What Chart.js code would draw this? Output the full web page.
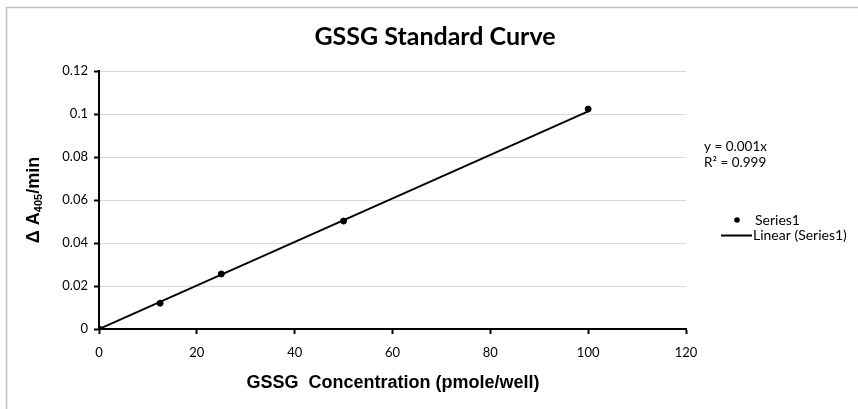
<!DOCTYPE html>
<html>
<head>
<meta charset="utf-8">
<script src="https://cdn.jsdelivr.net/npm/chart.js@4/dist/chart.umd.min.js"></script>
<style>
html,body{margin:0;padding:0;background:#fff;}
#c{display:block;}
</style>
</head>
<body>
<canvas id="c" width="858" height="409"></canvas>
<script>
// ---- data ----
const concentration = [0, 12.5, 25, 50, 100];
const deltaA = [0, 0.0120, 0.0256, 0.0502, 0.1023];
const trendX = [0, 100];
const trendY = [0, 0.1012];
const xTickLabels = ['0', '20', '40', '60', '80', '100', '120'];
const yTickLabels = ['0', '0.02', '0.04', '0.06', '0.08', '0.1', '0.12'];
const chartTitle = 'GSSG Standard Curve';
const xTitle = 'GSSG  Concentration (pmole/well)';
const yTitleMain = '\u0394 A';
const yTitleSub = '405';
const yTitleTail = '/min';
const equationText = ['y = 0.001x', 'R\u00b2 = 0.999'];
const seriesName = 'Series1';
const trendName = 'Linear (Series1)';

const tickFont = {family: 'Lato, "Open Sans", sans-serif', size: 13};

const decorPlugin = {
  id: 'decor',
  beforeDraw(chart) {
    const ctx = chart.ctx;
    ctx.save();
    ctx.fillStyle = '#fff';
    ctx.fillRect(0, 0, chart.width, chart.height);
    ctx.strokeStyle = '#c0c0c0';
    ctx.lineWidth = 1.5;
    ctx.beginPath();
    ctx.moveTo(6.5, chart.height);
    ctx.lineTo(6.5, 7.5);
    ctx.lineTo(chart.width, 7.5);
    ctx.stroke();
    ctx.restore();
  },
  afterDraw(chart) {
    const ctx = chart.ctx;
    const area = chart.chartArea;
    ctx.save();
    ctx.fillStyle = '#000';
    // title
    ctx.font = 'bold 25px Lato, "Open Sans", sans-serif';
    ctx.textAlign = 'center';
    ctx.textBaseline = 'middle';
    ctx.fillText(chartTitle, 435, 37);
    // x title
    ctx.font = 'bold 18px "Liberation Sans", Arial, sans-serif';
    ctx.fillText(xTitle, 393, 383);
    // y title rotated with subscript
    ctx.save();
    ctx.translate(32, 200);
    ctx.rotate(-Math.PI / 2);
    const fMain = 'bold 18px "Liberation Sans", Arial, sans-serif';
    const fSub = 'bold 11px "Liberation Sans", Arial, sans-serif';
    ctx.font = fMain; const w1 = ctx.measureText(yTitleMain).width;
    const w3 = ctx.measureText(yTitleTail).width;
    ctx.font = fSub; const w2 = ctx.measureText(yTitleSub).width;
    let x0 = -(w1 + w2 + w3) / 2;
    ctx.textAlign = 'left';
    ctx.textBaseline = 'alphabetic';
    ctx.font = fMain; ctx.fillText(yTitleMain, x0, 7);
    ctx.font = fSub; ctx.fillText(yTitleSub, x0 + w1, 10);
    ctx.font = fMain; ctx.fillText(yTitleTail, x0 + w1 + w2, 7);
    ctx.restore();
    // equation
    ctx.font = '13.5px Lato, "Open Sans", sans-serif';
    ctx.textAlign = 'left';
    ctx.textBaseline = 'middle';
    ctx.fillText(equationText[0], 704, 147);
    ctx.fillText(equationText[1], 704, 163);
    // legend
    ctx.beginPath();
    ctx.arc(737, 220, 2.8, 0, Math.PI * 2);
    ctx.fill();
    ctx.font = '14px Lato, "Open Sans", sans-serif';
    ctx.fillText(seriesName, 755, 220);
    ctx.strokeStyle = '#000';
    ctx.lineWidth = 2;
    ctx.beginPath();
    ctx.moveTo(721, 235.5);
    ctx.lineTo(752, 235.5);
    ctx.stroke();
    ctx.fillText(trendName, 753, 235);
    ctx.restore();
  }
};

new Chart(document.getElementById('c'), {
  type: 'scatter',
  data: {
    datasets: [
      {
        label: seriesName,
        data: concentration.map((x, i) => ({x: x, y: deltaA[i]})),
        backgroundColor: '#000',
        borderColor: '#000',
        pointRadius: 3,
        pointHoverRadius: 3,
        showLine: false,
        order: 1
      },
      {
        label: trendName,
        data: trendX.map((x, i) => ({x: x, y: trendY[i]})),
        borderColor: '#000',
        borderWidth: 2,
        pointRadius: 0,
        showLine: true,
        fill: false,
        order: 2
      }
    ]
  },
  options: {
    responsive: false,
    animation: false,
    layout: {padding: {top: 71, right: 172, bottom: 0, left: 0}},
    plugins: {legend: {display: false}, tooltip: {enabled: false}, title: {display: false}},
    scales: {
      x: {
        type: 'linear',
        min: 0, max: 120,
        ticks: {
          stepSize: 20,
          color: '#000',
          font: tickFont,
          padding: 11,
          maxRotation: 0,
          callback: (v, i) => xTickLabels[i]
        },
        grid: {drawOnChartArea: false, drawTicks: true, tickLength: 5, tickColor: '#000', tickWidth: 2},
        border: {color: '#000', width: 2},
        afterFit: s => { s.height = 80; }
      },
      y: {
        type: 'linear',
        min: 0, max: 0.12,
        ticks: {
          stepSize: 0.02,
          color: '#000',
          font: tickFont,
          padding: 6,
          callback: (v, i) => yTickLabels[i]
        },
        grid: {color: '#d9d9d9', lineWidth: 1, drawTicks: true, tickLength: 5, tickColor: '#000', tickWidth: 2},
        border: {color: '#000', width: 2},
        afterFit: s => { s.width = 99; }
      }
    }
  },
  plugins: [decorPlugin]
});
</script>
</body>
</html>
